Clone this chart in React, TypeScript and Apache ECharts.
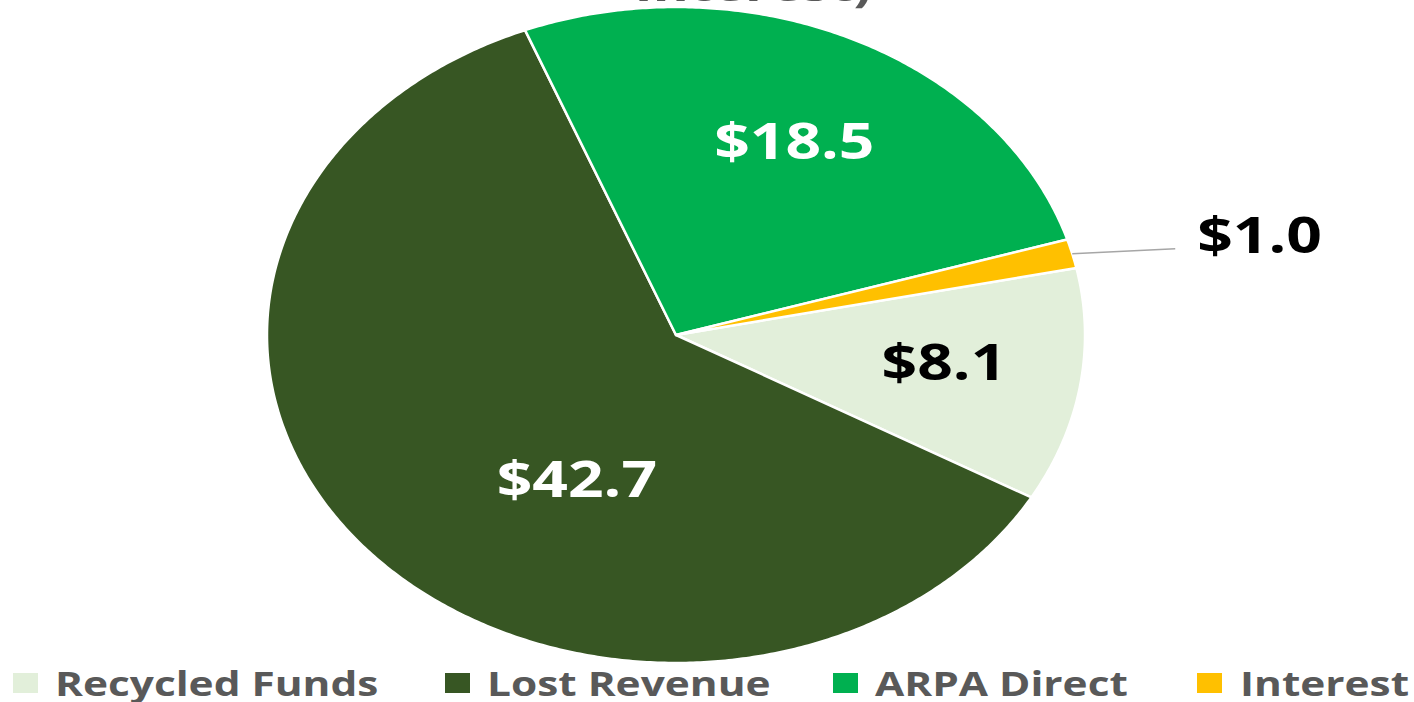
import React, { useEffect, useRef } from "react";
import * as echarts from "echarts";

const categories = ["Recycled Funds", "Lost Revenue", "ARPA Direct", "Interest"];
const values = [8.1, 42.7, 18.5, 1.0];
const colors = ["#E2EFDA", "#375623", "#00B050", "#FFC000"];
const labelColors = ["#000000", "#FFFFFF", "#FFFFFF", "#000000"];
const titleTail = "Interest)";

const FONT = "'Open Sans', 'DejaVu Sans', sans-serif";
const CX = 676, CY = 335, RX = 409, RY = 328;
const START = 11.8;
const SX = RX / RY;
const labelPlace: any[] = [
  { r: 0.66, a: -7 },
  { r: 0.5, a: -119 },
  { r: 0.66, a: 64 },
  null,
];
const legendSquareX = [13, 445, 833, 1197];
const legendTextX = [55, 487, 875, 1240];

export default function App() {
  const ref = useRef<HTMLDivElement>(null);
  useEffect(() => {
    const chart = echarts.init(ref.current!, null, { renderer: "svg" });
    const total = values.reduce((a, b) => a + b, 0);
    const starts: number[] = [];
    let acc = START;
    values.forEach((v) => {
      starts.push(acc);
      acc -= (v / total) * 360;
    });
    const pt = (deg: number, f = 1) => [
      CX + RX * f * Math.cos((deg * Math.PI) / 180),
      CY - RY * f * Math.sin((deg * Math.PI) / 180),
    ];
    const renderItem = (params: any, api: any) => {
      const i = params.dataIndex;
      const v = api.value(1);
      const a0 = starts[i];
      const a1 = a0 - (v / total) * 360;
      const pts: number[][] = [[CX, CY]];
      const n = Math.max(4, Math.ceil((a0 - a1) / 0.5));
      for (let k = 0; k <= n; k++) pts.push(pt(a0 + ((a1 - a0) * k) / n));
      const children: any[] = [
        {
          type: "polygon",
          shape: { points: pts },
          style: { fill: colors[i], stroke: "#ffffff", lineWidth: 2.5, lineJoin: "round" },
        },
      ];
      const text = "$" + v.toFixed(1);
      const lp = labelPlace[i];
      const labelStyle = {
        text,
        fill: labelColors[i],
        fontSize: 50,
        fontWeight: "bold",
        fontFamily: FONT,
        verticalAlign: "middle",
      };
      if (lp) {
        const [x, y] = pt(lp.a, lp.r);
        children.push({
          type: "text",
          x,
          y,
          scaleX: SX,
          style: { ...labelStyle, align: "center" },
        });
      } else {
        const mid = (a0 + a1) / 2;
        const [ex, ey] = pt(mid);
        children.push({
          type: "line",
          shape: { x1: ex, y1: ey, x2: ex + 103, y2: ey - 5 },
          style: { stroke: "#A6A6A6", lineWidth: 1.5 },
        });
        children.push({
          type: "text",
          x: ex + 125,
          y: ey - 20,
          scaleX: SX,
          style: { ...labelStyle, align: "left" },
        });
      }
      return { type: "group", children };
    };

    const graphics: any[] = [
      {
        type: "text",
        x: 872,
        y: -16,
        scaleX: SX,
        style: {
          text: titleTail,
          fill: "#595959",
          fontSize: 44,
          fontWeight: "bold",
          fontFamily: FONT,
          align: "right",
          verticalAlign: "middle",
        },
      },
    ];
    categories.forEach((c, i) => {
      graphics.push({
        type: "rect",
        shape: { x: legendSquareX[i], y: 673, width: 25, height: 20 },
        style: { fill: colors[i] },
      });
      graphics.push({
        type: "text",
        x: legendTextX[i],
        y: 683,
        scaleX: SX,
        style: {
          text: c,
          fill: "#595959",
          fontSize: 34,
          fontWeight: "bold",
          fontFamily: FONT,
          align: "left",
          verticalAlign: "middle",
        },
      });
    });

    chart.setOption({
      animation: false,
      backgroundColor: "#ffffff",
      series: [
        {
          type: "custom",
          coordinateSystem: "none",
          renderItem,
          data: values.map((v, i) => [i, v]),
        },
      ],
      graphic: graphics,
    });
    return () => chart.dispose();
  }, []);
  return (
    <div
      ref={ref}
      style={{ position: "fixed", left: 0, top: 0, width: 1414, height: 702 }}
    />
  );
}
